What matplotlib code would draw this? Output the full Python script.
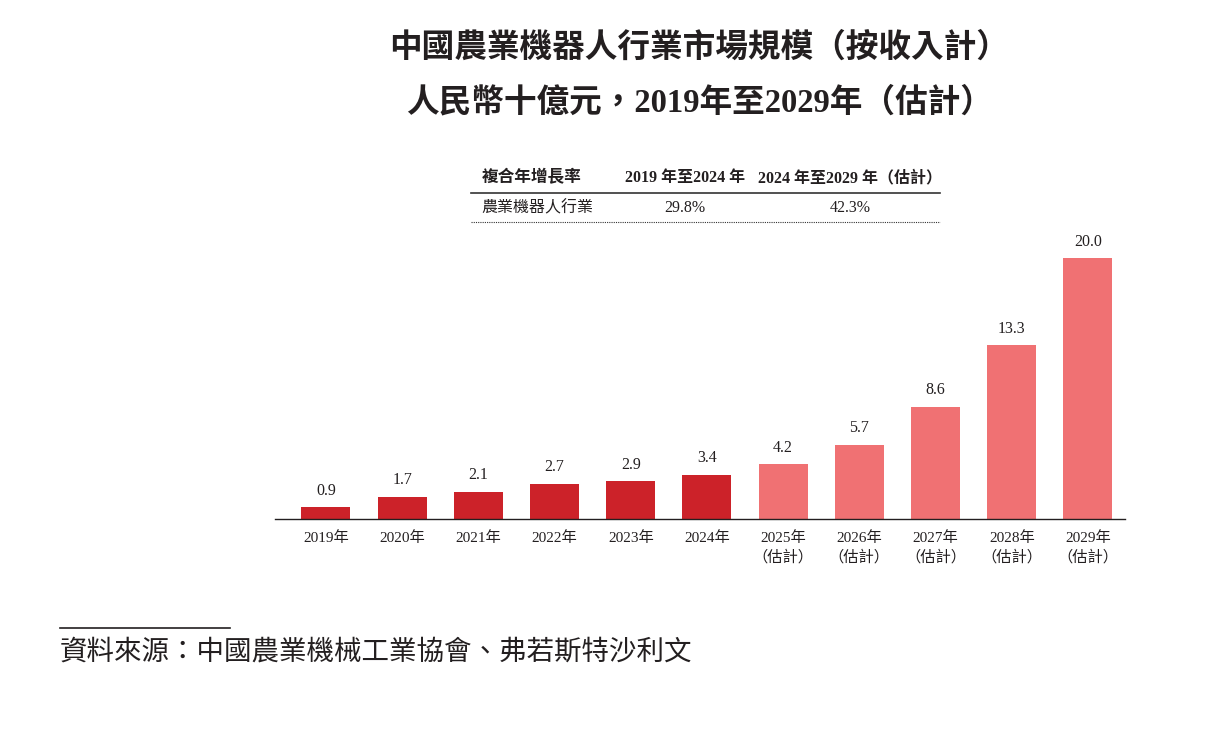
import matplotlib.pyplot as plt

plt.rcParams['font.family'] = ['Liberation Serif', 'Noto Sans CJK TC']

# data
years = ['2019年', '2020年', '2021年', '2022年', '2023年', '2024年',
         '2025年', '2026年', '2027年', '2028年', '2029年']
values = [0.9, 1.7, 2.1, 2.7, 2.9, 3.4, 4.2, 5.7, 8.6, 13.3, 20.0]
is_estimate = [False] * 6 + [True] * 5

cagr_header = ['複合年增長率', '2019 年至2024 年', '2024 年至2029 年（估計）']
cagr_row = ['農業機器人行業', '29.8%', '42.3%']

title1 = '中國農業機器人行業市場規模（按收入計）'
title2 = '人民幣十億元，2019年至2029年（估計）'
source = '資料來源：中國農業機械工業協會、弗若斯特沙利文'

W, H = 1211, 731
dark_red = '#CC2229'
light_red = '#F07173'
text_col = '#231F20'


def fx(x):
    return x / W


def fy(y):
    return 1 - y / H


fig = plt.figure(figsize=(W / 100, H / 100), dpi=100)

# axes placed so the baseline sits where the reference has it
ax = fig.add_axes([fx(275), fy(519), fx(1125) - fx(275), (519 - 232) / H])
colors = [light_red if e else dark_red for e in is_estimate]
xs = list(range(len(values)))
ax.bar(xs, values, width=0.643, color=colors, zorder=2)
ax.set_xlim(-0.669, 10.486)
ax.set_ylim(0, 22)
for x, v in zip(xs, values):
    ax.annotate(f'{v:.1f}', (x, v), xytext=(0, 6), textcoords='offset points',
                ha='center', va='bottom', fontsize=11.5, color=text_col)

for s in ['top', 'right', 'left']:
    ax.spines[s].set_visible(False)
ax.spines['bottom'].set_color('#231F20')
ax.spines['bottom'].set_linewidth(1.0)
ax.set_yticks([])
ax.set_xticks(xs)
labels = [y + '\n（估計）' if e else y for y, e in zip(years, is_estimate)]
ax.set_xticklabels(labels, fontsize=11, color=text_col, linespacing=1.4, va='top')
ax.tick_params(axis='x', length=0, pad=9)

# titles
fig.text(fx(699), fy(48), title1, ha='center', va='center', fontsize=23.5,
         fontweight='bold', color=text_col)
fig.text(fx(700), fy(103), title2, ha='center', va='center', fontsize=23.5,
         fontweight='bold', color=text_col)

# CAGR table
fig.text(fx(482), fy(178), cagr_header[0], ha='left', va='center', fontsize=12,
         fontweight='bold', color=text_col)
fig.text(fx(685), fy(178), cagr_header[1], ha='center', va='center', fontsize=11.5,
         fontweight='bold', color=text_col)
fig.text(fx(850), fy(178), cagr_header[2], ha='center', va='center', fontsize=11.5,
         fontweight='bold', color=text_col)
fig.add_artist(plt.Line2D([fx(471), fx(940)], [fy(193), fy(193)], color='#333333', lw=1.2))
fig.text(fx(481), fy(208), cagr_row[0], ha='left', va='center', fontsize=11.5, color=text_col)
fig.text(fx(685), fy(208), cagr_row[1], ha='center', va='center', fontsize=11.5, color=text_col)
fig.text(fx(850), fy(208), cagr_row[2], ha='center', va='center', fontsize=11.5, color=text_col)
fig.add_artist(plt.Line2D([fx(471), fx(940)], [fy(222), fy(222)], color='#333333',
                          lw=0.8, linestyle=(0, (1, 1))))

# source note
fig.add_artist(plt.Line2D([fx(60), fx(230)], [fy(628), fy(628)], color='#231F20', lw=1.2))
fig.text(fx(60), fy(653), source, ha='left', va='center', fontsize=19.8,
         style='italic', color=text_col)

fig.savefig('out.png', dpi=100)
